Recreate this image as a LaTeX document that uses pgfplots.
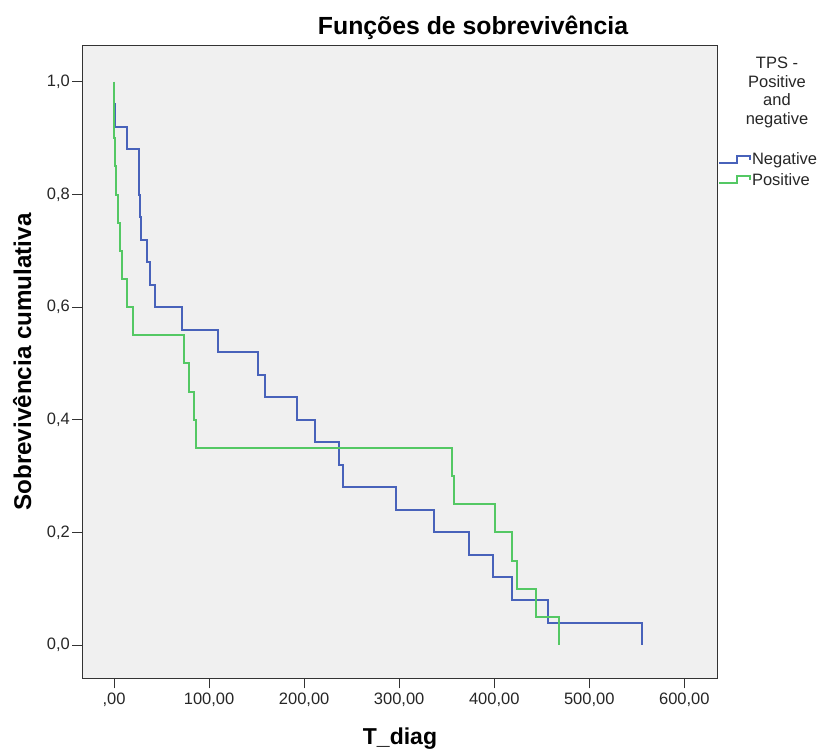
\documentclass[border=0pt]{standalone}
\usepackage{fontspec}
\setmainfont{Liberation Sans}
\usepackage{pgfplots}
\pgfplotsset{compat=1.18}
\definecolor{spssblue}{RGB}{72,98,186}
\definecolor{spssgreen}{RGB}{84,200,100}
\definecolor{bgc}{RGB}{240,240,240}
\begin{document}
\begin{tikzpicture}[x=1pt,y=1pt]
\begin{axis}[
  at={(82.3pt,-678.3pt)}, anchor=south west,
  scale only axis, width=635pt, height=633pt,
  xmin=-33.4, xmax=634.7, ymin=-0.059, ymax=1.065,
  axis background/.style={fill=bgc},
  axis line style={black!80, line width=1pt},
  xtick={0,100,200,300,400,500,600},
  xticklabels={{,00},{100,00},{200,00},{300,00},{400,00},{500,00},{600,00}},
  ytick={0,0.2,0.4,0.6,0.8,1},
  yticklabels={{0,0},{0,2},{0,4},{0,6},{0,8},{1,0}},
  tick align=outside, xtick pos=left, ytick pos=left,
  major tick length=10pt,
  tick style={black!80, line width=1pt},
  ticklabel style={font=\fontsize{16.5}{18}\selectfont, text=black!85},
  yticklabel style={xshift=1pt},
  xticklabel style={yshift=-1pt},
  legend style={at={(1.0011,0.8316)}, anchor=north west, draw=none, fill=none,
    inner sep=0pt, outer sep=0pt, row sep=5pt, column sep=0pt,
    font=\fontsize{16.5}{18}\selectfont, nodes={inner sep=1pt, text=black!85}},
  legend cell align=left,
  legend image code/.code={\draw[#1, line width=2pt] (0pt,-3pt) -- (18pt,-3pt) -- (18pt,4pt) -- (31pt,4pt) -- (31pt,0pt);},
]
\addplot[const plot, spssblue, line width=2pt] coordinates {
(0,1.0) (0,0.96) (0.5,0.92) (14,0.88) (26,0.80) (27,0.76) (28,0.72) (35,0.68)
(38,0.64) (43,0.60) (72,0.56) (109,0.52) (151,0.48) (159,0.44) (193,0.40)
(211,0.36) (237,0.32) (241,0.28) (297,0.24) (337,0.20) (373,0.16) (399,0.12)
(419,0.08) (457,0.04) (555,0.0)};
\addlegendentry{Negative}
\addplot[const plot, spssgreen, line width=2pt] coordinates {
(0,1.0) (0,0.90) (0.8,0.85) (1.6,0.80) (4,0.75) (6,0.70) (8.6,0.65) (13.4,0.60)
(20.4,0.55) (74,0.50) (79,0.45) (84,0.40) (86.5,0.35) (356,0.30) (357.3,0.25)
(400.6,0.20) (418.8,0.15) (424.4,0.10) (444.3,0.05) (468,0.0)};
\addlegendentry{Positive}
\end{axis}
\node[anchor=base, font=\fontsize{24.8}{28}\selectfont\bfseries] at (473,-35) {Funções de sobrevivência};
\node[anchor=base, font=\fontsize{23}{26}\selectfont\bfseries] at (400,-744) {T\_diag};
\node[anchor=base, rotate=90, font=\fontsize{24.2}{27}\selectfont\bfseries] at (31,-362) {Sobrevivência cumulativa};
\node[anchor=north, align=center, inner sep=0pt, font=\fontsize{16.5}{18.5}\selectfont, text=black!85] at (777,-57) {TPS -\\Positive\\and\\negative};
\pgfresetboundingbox
\path[use as bounding box] (0,0) rectangle (821,-751);
\end{tikzpicture}
\end{document}
